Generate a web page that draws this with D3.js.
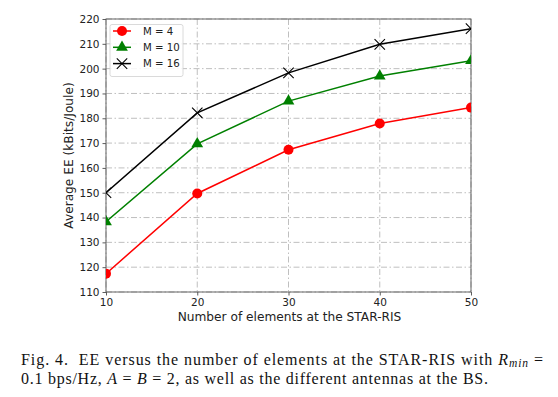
<!DOCTYPE html>
<html><head><meta charset="utf-8">
<script src="https://cdn.jsdelivr.net/npm/d3@7"></script>
<style>body{margin:0;background:#fff}svg{display:block}</style>
</head><body>
<svg id="c" width="558" height="397"></svg>
<script>
const xValues = [10, 20, 30, 40, 50];
const seriesNames = ["M = 4", "M = 10", "M = 16"];
const m4 = [117.4, 149.7, 167.3, 177.9, 184.3];
const m10 = [138.3, 169.7, 186.9, 197.0, 203.2];
const m16 = [150.0, 182.2, 198.3, 209.8, 216.1];
const colors = ["#ff0000", "#008000", "#000000"];
const markers = ["circle", "triangle", "x"];
const yTicks = [110,120,130,140,150,160,170,180,190,200,210,220];
const xLabel = "Number of elements at the STAR-RIS";
const yLabel = "Average EE (kBits/Joule)";

const svg = d3.select("#c");
const L = 106, R = 471, T = 19, B = 292;
const x = d3.scaleLinear().domain([10, 50]).range([L, R]);
const y = d3.scaleLinear().domain([110, 220]).range([B, T]);
const font = "DejaVu Sans, sans-serif";

// grid
const g = svg.append("g");
g.selectAll(".gx").data(xValues).enter().append("line")
  .attr("x1", d => x(d)).attr("x2", d => x(d)).attr("y1", T).attr("y2", B)
  .attr("stroke", "#b8b8b8").attr("stroke-width", 0.9).attr("stroke-dasharray", "6,2.5,1.5,2.5");
g.selectAll(".gy").data(yTicks).enter().append("line")
  .attr("y1", d => y(d)).attr("y2", d => y(d)).attr("x1", L).attr("x2", R)
  .attr("stroke", "#b8b8b8").attr("stroke-width", 0.9).attr("stroke-dasharray", "6,2.5,1.5,2.5");

// axes
const xAxis = d3.axisBottom(x).tickValues(xValues).tickSize(3.5).tickPadding(3);
const yAxis = d3.axisLeft(y).tickValues(yTicks).tickSize(3.5).tickPadding(3);
const ax = svg.append("g").attr("transform", `translate(0,${B})`).call(xAxis);
const ay = svg.append("g").attr("transform", `translate(${L},0)`).call(yAxis);
[ax, ay].forEach(a => {
  a.select(".domain").remove();
  a.selectAll("text").attr("font-family", font).attr("font-size", 10.5).attr("fill", "#222");
  a.selectAll("line").attr("stroke", "#333").attr("stroke-width", 0.8);
});
svg.append("rect").attr("x", L).attr("y", T).attr("width", R - L).attr("height", B - T)
  .attr("fill", "none").attr("stroke", "#555").attr("stroke-width", 0.9);

// series
const data = [m4, m10, m16];
const line = d3.line().x((d, i) => x(xValues[i])).y(d => y(d));
function drawMarker(sel, type, color, cx, cy) {
  if (type === "circle") {
    sel.append("circle").attr("cx", cx).attr("cy", cy).attr("r", 5).attr("fill", color);
  } else if (type === "triangle") {
    sel.append("path").attr("d", d3.symbol().type(d3.symbolTriangle).size(60)())
      .attr("transform", `translate(${cx},${cy})`).attr("fill", color);
  } else {
    const s = 5.2;
    sel.append("path").attr("d", `M${cx-s},${cy-s}L${cx+s},${cy+s}M${cx-s},${cy+s}L${cx+s},${cy-s}`)
      .attr("stroke", color).attr("stroke-width", 1.1).attr("fill", "none");
  }
}
svg.append("defs").append("clipPath").attr("id", "pc")
  .append("rect").attr("x", L).attr("y", T).attr("width", R - L).attr("height", B - T);
data.forEach((vals, k) => {
  const sg = svg.append("g").attr("clip-path", "url(#pc)");
  sg.append("path").datum(vals).attr("d", line).attr("fill", "none")
    .attr("stroke", colors[k]).attr("stroke-width", 1.5);
  vals.forEach((v, i) => drawMarker(sg, markers[k], colors[k], x(xValues[i]), y(v)));
});

// legend
const lg = svg.append("g");
lg.append("rect").attr("x", 110).attr("y", 24.5).attr("width", 73).attr("height", 52).attr("rx", 2)
  .attr("fill", "#fff").attr("fill-opacity", 0.85).attr("stroke", "#d0d0d0").attr("stroke-width", 0.8);
seriesNames.forEach((n, k) => {
  const ly = 31 + k * 16.3;
  lg.append("line").attr("x1", 113).attr("x2", 131).attr("y1", ly).attr("y2", ly)
    .attr("stroke", colors[k]).attr("stroke-width", 1.5);
  drawMarker(lg, markers[k], colors[k], 122, ly);
  lg.append("text").attr("x", 143).attr("y", ly + 3.7).text(n)
    .attr("font-family", font).attr("font-size", 10.2).attr("fill", "#222");
});

// axis labels
svg.append("text").attr("x", (L + R) / 2 + 1).attr("y", 321).attr("text-anchor", "middle")
  .attr("font-family", font).attr("font-size", 12.2).attr("fill", "#222").text(xLabel);
svg.append("text").attr("transform", `translate(72.5,${(T + B) / 2}) rotate(-90)`)
  .attr("text-anchor", "middle").attr("font-family", font).attr("font-size", 12.2)
  .attr("fill", "#222").text(yLabel);

// caption
const serif = "Liberation Serif, Times New Roman, serif";
const c1 = svg.append("text").attr("x", 21).attr("y", 364.7).attr("font-family", serif)
  .attr("font-size", 16).attr("fill", "#111")
  .attr("textLength", 522).attr("lengthAdjust", "spacing");
c1.append("tspan").text("Fig. 4.\u00a0\u00a0EE versus the number of elements at the STAR-RIS with ");
c1.append("tspan").attr("font-style", "italic").text("R");
c1.append("tspan").attr("font-style", "italic").attr("font-size", 11.5).attr("dy", 2.5).text("min");
c1.append("tspan").attr("dy", -2.5).text(" =");
const c2 = svg.append("text").attr("x", 21).attr("y", 384.3).attr("font-family", serif)
  .attr("font-size", 16).attr("fill", "#111")
  .attr("textLength", 467).attr("lengthAdjust", "spacing");
c2.append("tspan").text("0.1 bps/Hz, ");
c2.append("tspan").attr("font-style", "italic").text("A");
c2.append("tspan").text(" = ");
c2.append("tspan").attr("font-style", "italic").text("B");
c2.append("tspan").text(" = 2, as well as the different antennas at the BS.");
</script>
</body></html>
